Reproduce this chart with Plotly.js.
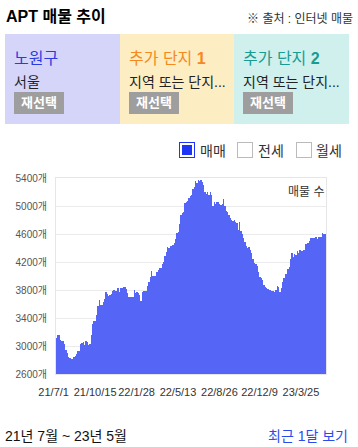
<!DOCTYPE html>
<html><head><meta charset="utf-8">
<script src="https://cdn.plot.ly/plotly-3.0.1.min.js"></script>
<style>
html,body{margin:0;padding:0;background:#fff;width:358px;height:447px;overflow:hidden;font-family:"Liberation Sans","Noto Sans CJK KR",sans-serif;}
.abs{position:absolute;white-space:nowrap;}
#title{left:6px;top:3px;font-size:16px;font-weight:bold;color:#000;}
#src{right:5px;top:9px;font-size:12px;color:#333;}
.box{position:absolute;top:34px;height:90px;width:115px;}
.bt{position:absolute;left:9px;top:11px;font-size:16px;}
.bs{position:absolute;left:9px;top:37px;font-size:14px;color:#222;}
.btn{position:absolute;left:9px;top:58px;width:50px;height:22px;background:#9e9e9e;color:#fff;font-size:13px;font-weight:bold;text-align:center;line-height:22px;}
.cb{position:absolute;top:142px;width:14px;height:14px;border:1px solid #bbb;background:#fff;}
.cbl{position:absolute;top:140px;font-size:14px;color:#333;}
#chart{position:absolute;left:0;top:160px;width:358px;height:245px;}
#range{left:5px;top:425px;font-size:14px;color:#111;}
#recent{right:10px;top:425px;font-size:14px;color:#2c4beb;}
</style></head>
<body>
<div id="title" class="abs">APT 매물 추이</div>
<div id="src" class="abs">※ 출처 : 인터넷 매물</div>
<div class="box" style="left:5px;background:#d5d5fa;"><div class="bt" style="color:#2b3be0;">노원구</div><div class="bs">서울</div><div class="btn">재선택</div></div>
<div class="box" style="left:120px;background:#fdedc2;"><div class="bt" style="color:#f5891f;">추가 단지 <b>1</b></div><div class="bs">지역 또는 단지...</div><div class="btn">재선택</div></div>
<div class="box" style="left:234px;background:#d0f0ee;"><div class="bt" style="color:#179c94;">추가 단지 <b>2</b></div><div class="bs">지역 또는 단지...</div><div class="btn">재선택</div></div>
<div class="cb" style="left:179px;border:1px solid #1f35f5;background:#1f35f5;box-shadow:inset 0 0 0 2px #fff;"></div>
<div class="cbl" style="left:200px;">매매</div>
<div class="cb" style="left:237px;"></div>
<div class="cbl" style="left:258px;">전세</div>
<div class="cb" style="left:296px;"></div>
<div class="cbl" style="left:316px;">월세</div>
<div id="chart"></div>
<div id="range" class="abs">21년 7월 ~ 23년 5월</div>
<div id="recent" class="abs">최근 1달 보기</div>
<script>
const listingCounts = [
3116,3154,3154,3087,3078,3078,3035,2940,2901,2844,2825,2810,2810,2839,2853,2882,2925,2925,3025,3044,
3054,3020,3068,3054,3020,3030,3154,3312,3355,3355,3441,3570,3656,3585,3585,3627,3675,3771,3742,3714,
3723,3737,3790,3804,3785,3785,3828,3776,3833,3833,3838,3838,3809,3761,3699,3699,3699,3699,3795,3752,
3771,3761,3733,3647,3766,3780,3780,3790,3862,3914,3981,4072,4000,4000,4000,4053,4082,4110,4120,4172,
4196,4292,4344,4411,4397,4435,4430,4450,4473,4531,4612,4631,4746,4875,4899,4908,5042,5056,5076,5114,
5147,5162,5243,5267,5358,5329,5377,5362,5377,5338,5300,5205,5171,5205,5162,5205,5152,4994,5056,5028,
5056,5056,5028,5009,5028,5100,4994,4932,4908,4875,4827,4803,4779,4793,4765,4751,4660,4770,4645,4598,
4536,4488,4430,4407,4421,4373,4330,4244,4182,4168,4144,4062,3991,3976,3943,3871,3847,3823,3814,3800,
3795,3790,3790,3776,3800,3857,3847,3771,3823,3909,3972,4029,4034,4096,4134,4239,4325,4268,4311,4306,
4354,4325,4373,4359,4363,4368,4459,4459,4478,4507,4540,4536,4536,4540,4564,4531,4564,4564,4564,4617,
4607,4602];
const xTickPositions = [0,31,62,93,124,154,185];
const xTickLabels = ["21/7/1","21/10/15","22/1/28","22/5/13","22/8/26","22/12/9","23/3/25"];
const yTickValues = [2600,3000,3400,3800,4200,4600,5000,5400];
const yTickLabels = yTickValues.map(v => v + "개");
const xIdx = listingCounts.map((_, i) => i);

Plotly.newPlot("chart", [{
  type: "bar", x: xIdx, y: listingCounts,
  marker: {color: "#5566f7", line: {width: 0}},
  width: 1, hoverinfo: "none"
}], {
  width: 358, height: 245,
  margin: {l: 56, r: 32, t: 18, b: 31},
  paper_bgcolor: "rgba(0,0,0,0)", plot_bgcolor: "#fff",
  showlegend: false, bargap: 0,
  font: {family: '"Liberation Sans", "Noto Sans CJK KR", sans-serif', size: 11, color: "#444"},
  xaxis: {range: [-0.5, listingCounts.length - 0.5], tickmode: "array", tickvals: xTickPositions, ticktext: xTickLabels,
    ticklabelshift: -3, ticklabelstandoff: 8, showgrid: false, zeroline: false, showline: true, linecolor: "#e6e6e6", mirror: true,
    tickfont: {size: 11, color: "#333"}, tickangle: 0, fixedrange: true},
  yaxis: {range: [2600, 5400], tickmode: "array", tickvals: yTickValues, ticktext: yTickLabels,
    showgrid: true, gridcolor: "#ebebeb", zeroline: false, showline: true, linecolor: "#e6e6e6", mirror: true,
    tickfont: {size: 10, color: "#555"}, ticklabelstandoff: 6, fixedrange: true},
  annotations: [{text: "매물 수", xref: "paper", yref: "paper", x: 1.0, y: 0.93, xanchor: "right", yanchor: "middle",
    showarrow: false, font: {size: 12, color: "#333"}}]
}, {staticPlot: true, displayModeBar: false});
</script>
</body></html>
